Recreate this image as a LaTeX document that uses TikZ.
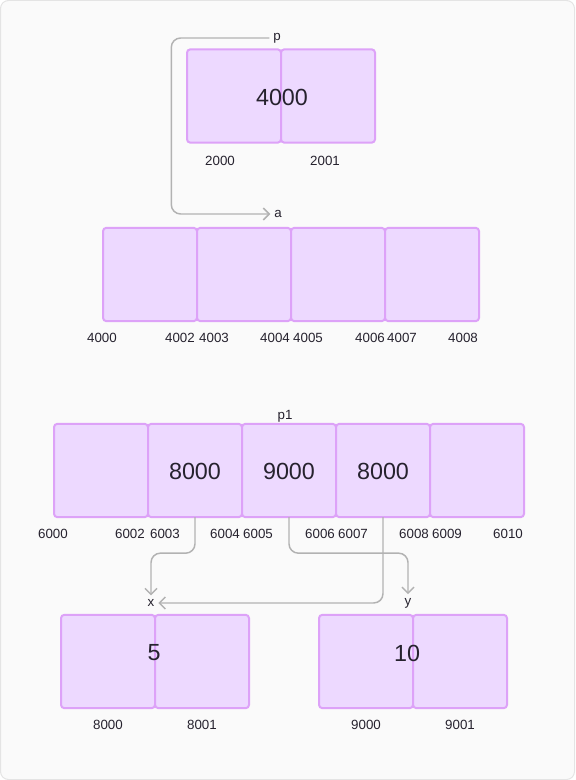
\documentclass[tikz,border=0pt]{standalone}
\usepackage{fontspec}
\setmainfont{Liberation Sans}
\usetikzlibrary{arrows.meta}

\definecolor{paper}{HTML}{FAFAFA}
\definecolor{frame}{HTML}{E4E4E4}
\definecolor{cellfill}{HTML}{EDD9FF}
\definecolor{cellline}{HTML}{DDA2F8}
\definecolor{wire}{HTML}{B2B2B2}
\definecolor{ink}{HTML}{26222E}

\begin{document}
\begin{tikzpicture}[
    x=0.75pt, y=-0.75pt,
    every node/.style={text=ink},
    >={Straight Barb[length=4.5pt,width=9pt]},
    cell/.style={draw=cellline, fill=cellfill, line width=1.5pt,
        rounded corners=2.5pt, minimum width=70.5pt, minimum height=70pt,
        inner sep=0pt, outer sep=0pt},
    value/.style={font=\fontsize{17.5}{20}\selectfont},
    addr/.style={font=\fontsize{10}{12}\selectfont},
    var/.style={font=\fontsize{10}{12}\selectfont, inner sep=1pt, outer sep=2pt},
    ptr/.style={->, draw=wire, line width=1.1pt, rounded corners=7pt}
]

% Background card
\fill[paper, draw=frame, line width=0.75pt, rounded corners=6pt]
    (0.5,0.5) rectangle (574.5,779.5);

% === Pointer p (two cells) ===
\foreach \i/\cx in {1/234, 2/328} {
    \node[cell] (p\i) at (\cx,96) {};
}
\node[value] (pval) at (282,97) {4000};
\node[addr] (pa1) at (220,161) {2000};
\node[addr] (pa2) at (325,161) {2001};
\node[var] (p) at (277,38) {p};

% === Array a (four cells) ===
\foreach \i/\cx in {1/150, 2/244, 3/338, 4/432} {
    \node[cell] (a\i) at (\cx,274.5) {};
}
\node[var] (a) at (278,214) {a};
\foreach \x/\txt in {102/4000, 180/4002, 214/4003, 275/4004,
                     308/4005, 370/4006, 402/4007, 463/4008} {
    \node[addr] (aa\txt) at (\x,338) {\txt};
}

% p -> a
\draw[ptr] (p.west) -- ++(-98,0) |- (a.west);

% === Array p1 (five cells) ===
\foreach \i/\cx/\txt in {1/101/, 2/195/8000, 3/289/9000, 4/383/8000, 5/477/} {
    \node[cell] (c\i) at (\cx,470.5) {};
    \node[value] (v\i) at (\cx,471) {\txt};
}
\node[var] (p1) at (285,416) {p1};
\foreach \x/\txt in {53/6000, 130/6002, 165/6003, 225/6004, 258/6005,
                     320/6006, 353/6007, 414/6008, 447/6009, 508/6010} {
    \node[addr] (ca\txt) at (\x,534) {\txt};
}

% === x and y (two cells each) ===
\node[var] (x) at (151,603) {x};
\node[var] (y) at (408,603) {y};
\foreach \i/\cx in {1/108, 2/202} {
    \node[cell] (x\i) at (\cx,661.5) {};
}
\foreach \i/\cx in {1/366, 2/460} {
    \node[cell] (y\i) at (\cx,661.5) {};
}
\node[value] (xval) at (154,653) {5};
\node[value] (yval) at (407,653) {10};
\node[addr] (xa1) at (108,725) {8000};
\node[addr] (xa2) at (202,725) {8001};
\node[addr] (ya1) at (366,725) {9000};
\node[addr] (ya2) at (460,725) {9001};

% p1 pointers
\draw[ptr] (c2.south) -- ++(0,36) -| (x.north);
\draw[ptr] (c3.south) -- ++(0,36) -| (y.north);
\draw[ptr] (c4.south) |- (x.east);

\end{tikzpicture}
\end{document}
